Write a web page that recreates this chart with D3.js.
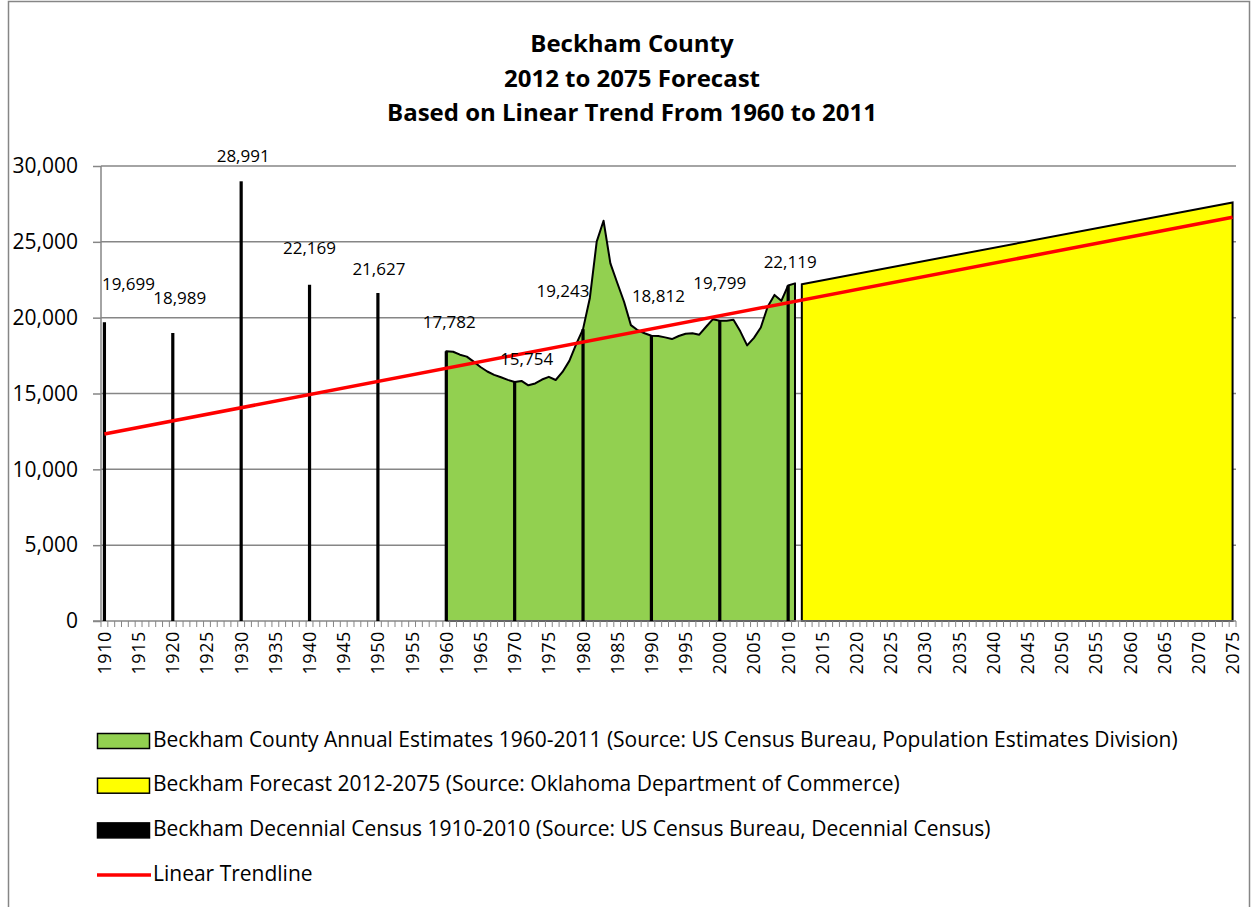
<!DOCTYPE html>
<html>
<head>
<meta charset="utf-8">
<script src="https://cdn.jsdelivr.net/npm/d3@7"></script>
<style>
  body { margin: 0; background: #fff; }
  svg { display: block; font-family: "Open Sans", "Noto Sans", sans-serif; }
</style>
</head>
<body>
<div id="chart"></div>
<script>
const width = 1252,
  height = 907,
  margin = { top: 166, left: 101, right: 16, bottom: 286 }

// decennial census (black columns)
const censusYears = [1910, 1920, 1930, 1940, 1950, 1960, 1970, 1980, 1990, 2000, 2010]
const censusValues = [19699, 18989, 28991, 22169, 21627, 17782, 15754, 19243, 18812, 19799, 22119]

// annual estimates 1960-2011 (green area)
const estimateYears = d3.range(1960, 2012)
const estimateValues = [
  17782, 17750, 17560, 17430, 17100, 16750, 16450, 16230, 16070, 15900,
  15754, 15830, 15540, 15660, 15920, 16100, 15890, 16420, 17150, 18250,
  19243, 21300, 25010, 26390, 23580, 22300, 21050, 19510, 19170, 18970,
  18812, 18790, 18700, 18590, 18790, 18940, 18970, 18880, 19400, 19900,
  19799, 19800, 19860, 19100, 18170, 18670, 19350, 20720, 21500, 21110,
  22119, 22260
]

// forecast 2012-2075 (yellow area)
const forecastYears = [2012, 2075]
const forecastValues = [22200, 27600]

// linear trendline
const trendYears = [1910, 2075]
const trendValues = [12330, 26620]

const yTicks = [0, 5000, 10000, 15000, 20000, 25000, 30000]
const titleLines = ["Beckham County", "2012 to 2075 Forecast", "Based on Linear Trend From 1960 to 2011"]

const legendItems = [
  { label: "Beckham County Annual Estimates 1960-2011 (Source: US Census Bureau, Population Estimates Division)", fill: "#92D050", type: "box" },
  { label: "Beckham Forecast 2012-2075 (Source: Oklahoma Department of Commerce)", fill: "#FFFF00", type: "box" },
  { label: "Beckham Decennial Census 1910-2010 (Source: US Census Bureau, Decennial Census)", fill: "#000000", type: "box" },
  { label: "Linear Trendline", fill: "#FF0000", type: "line" }
]

// hand-placed data labels: [dx, dy] from the top of each column
const labelNudge = {
  1910: [24, -37], 1920: [7, -34], 1930: [2, -24], 1940: [0, -35], 1950: [1, -23],
  1960: [3, -28], 1970: [12, -22], 1980: [-20, -37], 1990: [7, -38], 2000: [0, -36], 2010: [2, -22]
}

const allYears = d3.range(1910, 2076)

const svg = d3.select("#chart").append("svg")
  .attr("width", width)
  .attr("height", height)

// chart border
svg.append("rect")
  .attr("x", 8.5).attr("y", 1.5)
  .attr("width", 1241).attr("height", 930)
  .attr("fill", "none")
  .attr("stroke", "#868686")
  .attr("stroke-width", 1.5)

const x = d3.scaleBand()
  .domain(allYears)
  .range([margin.left, width - margin.right])
  .padding(0)

const cx = yr => x(yr) + x.bandwidth() / 2

const y = d3.scaleLinear()
  .domain([0, 30000])
  .range([height - margin.bottom, margin.top])

// title
svg.append("g")
  .selectAll("text")
  .data(titleLines)
  .join("text")
  .attr("x", 632)
  .attr("y", (d, i) => 46 + i * 34.5)
  .attr("text-anchor", "middle")
  .attr("dominant-baseline", "middle")
  .attr("font-weight", "bold")
  .attr("font-size", 24)
  .attr("fill", "#000")
  .text(d => d)

// y axis
const yAxis = svg.append("g")
  .attr("transform", `translate(${margin.left},0)`)
  .call(d3.axisLeft(y).tickValues(yTicks).tickSize(8).tickFormat(d3.format(",")))
yAxis.select(".domain").remove()
yAxis.selectAll(".tick line").attr("stroke", "#868686").attr("stroke-width", 1.5)
yAxis.selectAll(".tick text")
  .attr("x", -23)
  .attr("font-size", 21)
  .attr("font-family", "Open Sans, sans-serif")
  .attr("fill", "#000")

// gridlines
svg.append("g")
  .selectAll("line")
  .data(yTicks.filter(d => d > 0))
  .join("line")
  .attr("x1", margin.left).attr("x2", width - margin.right)
  .attr("y1", d => y(d)).attr("y2", d => y(d))
  .attr("stroke", "#868686")
  .attr("stroke-width", 1.5)

// plot area left edge
svg.append("line")
  .attr("x1", margin.left).attr("x2", margin.left)
  .attr("y1", y(30000)).attr("y2", y(0))
  .attr("stroke", "#868686").attr("stroke-width", 1.5)

// green annual estimates area
const estimates = estimateYears.map((yr, i) => ({ yr, v: estimateValues[i] }))
const area = d3.area()
  .x(d => cx(d.yr))
  .y0(y(0))
  .y1(d => y(d.v))

svg.append("path")
  .datum(estimates)
  .attr("d", area)
  .attr("fill", "#92D050")
  .attr("stroke", "#000")
  .attr("stroke-width", 2)
  .attr("stroke-linejoin", "round")

// yellow forecast area
const forecast = forecastYears.map((yr, i) => ({ yr, v: forecastValues[i] }))
svg.append("path")
  .datum(forecast)
  .attr("d", area)
  .attr("fill", "#FFFF00")
  .attr("stroke", "#000")
  .attr("stroke-width", 2)

// x axis line with minor ticks
const xAxis = svg.append("g")
  .attr("transform", `translate(0,${y(0)})`)

xAxis.append("line")
  .attr("x1", margin.left - 8).attr("x2", width - margin.right)
  .attr("y1", 0).attr("y2", 0)
  .attr("stroke", "#868686").attr("stroke-width", 1.5)

xAxis.selectAll(".minor")
  .data(allYears.concat([2076]))
  .join("line")
  .attr("class", "minor")
  .attr("x1", d => d === 2076 ? width - margin.right : x(d))
  .attr("x2", d => d === 2076 ? width - margin.right : x(d))
  .attr("y1", 0).attr("y2", 6)
  .attr("stroke", "#868686").attr("stroke-width", 1)

xAxis.selectAll(".year")
  .data(allYears.filter(d => d % 5 === 0))
  .join("text")
  .attr("class", "year")
  .attr("transform", d => `translate(${cx(d)},10) rotate(-90)`)
  .attr("text-anchor", "end")
  .attr("dy", "0.36em")
  .attr("font-size", 18)
  .attr("letter-spacing", 0.6)
  .attr("fill", "#000")
  .text(d => d)

// census columns
const census = censusYears.map((yr, i) => ({ yr, v: censusValues[i] }))
svg.append("g")
  .selectAll("rect")
  .data(census)
  .join("rect")
  .attr("x", d => cx(d.yr) - 1.6)
  .attr("width", 3.2)
  .attr("y", d => y(d.v))
  .attr("height", d => y(0) - y(d.v))
  .attr("fill", "#000")

// trendline
const trend = trendYears.map((yr, i) => ({ yr, v: trendValues[i] }))
svg.append("path")
  .datum(trend)
  .attr("d", d3.line().x(d => cx(d.yr)).y(d => y(d.v)))
  .attr("fill", "none")
  .attr("stroke", "#FF0000")
  .attr("stroke-width", 3.5)

// data labels
svg.append("g")
  .selectAll("text")
  .data(census)
  .join("text")
  .attr("x", d => cx(d.yr) + labelNudge[d.yr][0])
  .attr("y", d => y(d.v) + labelNudge[d.yr][1])
  .attr("text-anchor", "middle")
  .attr("dominant-baseline", "middle")
  .attr("font-size", 17)
  .attr("fill", "#000")
  .text(d => d3.format(",")(d.v))

// legend
const legend = svg.append("g")
  .attr("transform", "translate(97,741)")

const rows = legend.selectAll("g")
  .data(legendItems)
  .join("g")
  .attr("transform", (d, i) => `translate(0,${i * 44.7})`)

rows.filter(d => d.type === "box")
  .append("rect")
  .attr("x", 0.5).attr("y", -7.5)
  .attr("width", 52).attr("height", 15)
  .attr("fill", d => d.fill)
  .attr("stroke", "#000")
  .attr("stroke-width", 1.5)

rows.filter(d => d.type === "line")
  .append("line")
  .attr("x1", 0).attr("x2", 54)
  .attr("y1", 0).attr("y2", 0)
  .attr("stroke", d => d.fill)
  .attr("stroke-width", 3.5)

rows.append("text")
  .attr("x", 56)
  .attr("dominant-baseline", "middle")
  .attr("font-size", 21)
  .attr("fill", "#000")
  .text(d => d.label)
</script>
</body>
</html>
